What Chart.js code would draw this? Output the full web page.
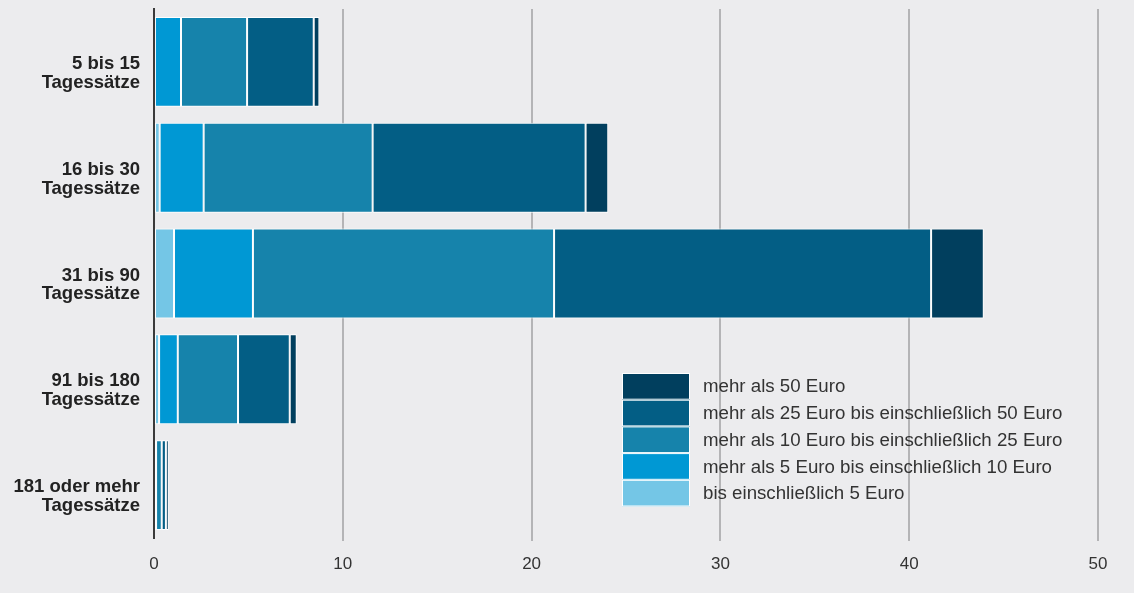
<!DOCTYPE html>
<html lang="de">
<head>
  <meta charset="UTF-8">
  <title>Tagessätze nach Tagessatzhöhe</title>
  <script src="https://cdn.jsdelivr.net/npm/chart.js"></script>
  <style>
    html, body {
      margin: 0;
      padding: 0;
      background: #ececee;
    }
    .wrap {
      position: relative;
      width: 1134px;
      height: 593px;
    }
  </style>
</head>
<body>
<div class="wrap">
  <canvas id="chart" width="1134" height="593"></canvas>
</div>

<script>
// categories (y axis); leading empty line puts the first line on the bar centre
const categories = [
  ['', '5 bis 15', 'Tagessätze'],
  ['', '16 bis 30', 'Tagessätze'],
  ['', '31 bis 90', 'Tagessätze'],
  ['', '91 bis 180', 'Tagessätze'],
  ['', '181 oder mehr', 'Tagessätze']
];

// series, stacked from the axis outwards
const upTo5 = [0.05, 0.3, 1.06, 0.27, 0.05];
const from5to10 = [1.38, 2.33, 4.18, 0.99, 0.06];
const from10to25 = [3.5, 8.95, 15.95, 3.19, 0.3];
const from25to50 = [3.53, 11.28, 19.97, 2.74, 0.22];
const over50 = [0.3, 1.2, 2.79, 0.37, 0.15];

const seriesLabels = [
  'bis einschließlich 5 Euro',
  'mehr als 5 Euro bis einschließlich 10 Euro',
  'mehr als 10 Euro bis einschließlich 25 Euro',
  'mehr als 25 Euro bis einschließlich 50 Euro',
  'mehr als 50 Euro'
];
const seriesColors = ['#74c6e6', '#0098d4', '#1683ab', '#035e85', '#013f5e'];

const xTicks = [0, 10, 20, 30, 40, 50];

const FONT = "'Liberation Sans', Arial, Helvetica, sans-serif";

// legend drawn inside the plot, bottom right, reversed order
const insideLegend = {
  id: 'insideLegend',
  afterDraw(chart) {
    const ctx = chart.ctx;
    const x0 = 622, y0 = 373, boxW = 68, rowH = 26.7;
    const sets = chart.data.datasets.slice().reverse();
    ctx.save();
    sets.forEach((ds, i) => {
      const y = y0 + i * rowH;
      ctx.fillStyle = ds.backgroundColor;
      ctx.fillRect(x0, y, boxW, rowH);
      ctx.strokeStyle = '#ffffff';
      ctx.lineWidth = 1;
      ctx.strokeRect(x0 + 0.5, y + 0.5, boxW - 1, rowH - 1);
      ctx.fillStyle = '#333333';
      ctx.font = '18.7px ' + FONT;
      ctx.textBaseline = 'middle';
      ctx.textAlign = 'left';
      ctx.fillText(ds.label, 703, y + rowH / 2 + 1);
    });
    ctx.restore();
  }
};

const values = [upTo5, from5to10, from10to25, from25to50, over50];

new Chart(document.getElementById('chart'), {
  type: 'bar',
  data: {
    labels: categories,
    datasets: values.map((v, i) => ({
      label: seriesLabels[i],
      data: v,
      backgroundColor: seriesColors[i],
      borderColor: '#ffffff',
      borderWidth: 1,
      borderSkipped: false,
      barPercentage: 0.85,
      categoryPercentage: 1
    }))
  },
  options: {
    indexAxis: 'y',
    responsive: false,
    animation: false,
    layout: {
      padding: { top: 9, right: 36, bottom: 0, left: 0 }
    },
    plugins: {
      legend: { display: false },
      tooltip: { enabled: false }
    },
    scales: {
      x: {
        stacked: true,
        min: 0,
        max: 50,
        afterBuildTicks(scale) {
          scale.ticks = xTicks.map(v => ({ value: v }));
        },
        afterFit(scale) {
          scale.height = 55;
        },
        grid: {
          color: ctx => ctx.tick && ctx.tick.value === 0 ? 'rgba(0,0,0,0)' : '#b4b4b6',
          lineWidth: 2,
          drawTicks: true,
          tickLength: 3
        },
        border: { display: false },
        ticks: {
          color: '#333333',
          font: { family: FONT, size: 17 },
          padding: 13
        }
      },
      y: {
        stacked: true,
        afterFit(scale) {
          scale.width = 154;
          scale.paddingTop = 0;
          scale.paddingBottom = 0;
        },
        grid: { display: false, drawTicks: false },
        border: { display: true, color: '#3a3a3a', width: 2 },
        ticks: {
          color: '#222222',
          font: { family: FONT, size: 18.5, weight: 'bold', lineHeight: 1.02 },
          padding: 14,
          labelOffset: 2
        }
      }
    }
  },
  plugins: [insideLegend]
});
</script>
</body>
</html>
